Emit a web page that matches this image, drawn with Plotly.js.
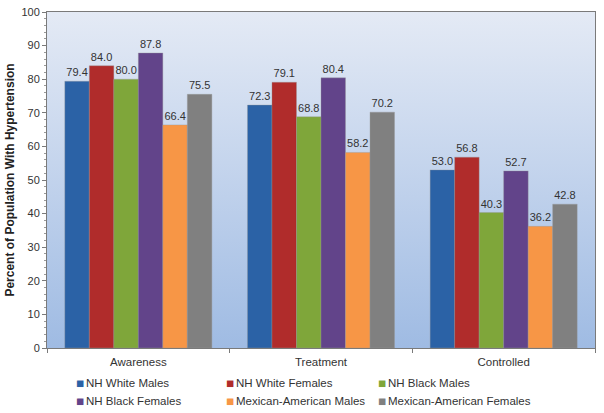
<!DOCTYPE html>
<html>
<head>
<meta charset="utf-8">
<script src="https://cdn.plot.ly/plotly-3.0.1.min.js"></script>
<style>html,body{margin:0;padding:0;background:#fff;}#chart{width:604px;height:413px;}</style>
</head>
<body>
<div id="chart"></div>
<script>
var categories = ["Awareness", "Treatment", "Controlled"];
var seriesNames = ["NH White Males", "NH White Females", "NH Black Males", "NH Black Females", "Mexican-American Males", "Mexican-American Females"];
var nhWhiteMales = [79.4, 72.3, 53.0];
var nhWhiteFemales = [84.0, 79.1, 56.8];
var nhBlackMales = [80.0, 68.8, 40.3];
var nhBlackFemales = [87.8, 80.4, 52.7];
var mexAmMales = [66.4, 58.2, 36.2];
var mexAmFemales = [75.5, 70.2, 42.8];
var seriesValues = [nhWhiteMales, nhWhiteFemales, nhBlackMales, nhBlackFemales, mexAmMales, mexAmFemales];
var colors = ["#2b62a6", "#b02c2b", "#7fa63a", "#62448a", "#f79646", "#808080"];

var traces = seriesValues.map(function (vals, i) {
  return {
    type: "bar",
    name: seriesNames[i],
    x: categories,
    y: vals,
    marker: { color: colors[i], line: { color: "rgba(150,150,150,0.6)", width: 0.6 } },
    texttemplate: "%{y:.1f}",
    textposition: "outside",
    cliponaxis: false,
    textfont: { size: 11, color: "#333" },
    hoverinfo: "skip"
  };
});

// Custom legend laid out in two rows of three (pixel positions of the layout only)
var M = { l: 47, r: 9, t: 12, b: 65 };
var plotW = 604 - M.l - M.r, plotH = 413 - M.t - M.b;
function px2x(px) { return (px - M.l) / plotW; }
function py2y(py) { return (413 - M.b - py) / plotH; }
var legCols = [80, 230, 382];
var legRows = [383, 401];
var annotations = [];
seriesNames.forEach(function (name, i) {
  var cx = legCols[i % 3], cy = legRows[Math.floor(i / 3)];
  annotations.push({
    xref: "paper", yref: "paper", x: px2x(cx), y: py2y(cy),
    xanchor: "center", yanchor: "middle", showarrow: false,
    text: "■", font: { family: "DejaVu Sans", size: 8.5, color: colors[i] }
  });
  annotations.push({
    xref: "paper", yref: "paper", x: px2x(cx + 4), y: py2y(cy),
    xanchor: "left", yanchor: "middle", showarrow: false,
    text: name, font: { size: 11.5, color: "#333" }
  });
});

var bgSvg = '<svg xmlns="http://www.w3.org/2000/svg" width="100" height="100" preserveAspectRatio="none">' +
  '<defs><linearGradient id="g" x1="0" y1="0" x2="0" y2="1">' +
  '<stop offset="0" stop-color="#e4eaf5"/><stop offset="1" stop-color="#9fbbe3"/>' +
  '</linearGradient></defs><rect width="100" height="100" fill="url(#g)"/></svg>';

var layout = {
  width: 604,
  height: 413,
  margin: { l: M.l, r: M.r, t: M.t, b: M.b, autoexpand: false },
  font: { family: "Liberation Sans, Arial, sans-serif", size: 11, color: "#333" },
  paper_bgcolor: "#ffffff",
  plot_bgcolor: "rgba(0,0,0,0)",
  barmode: "group",
  bargap: 0.195,
  bargroupgap: 0,
  showlegend: false,
  annotations: annotations,
  xaxis: {
    type: "category",
    showline: true,
    linecolor: "#7a7a7a",
    linewidth: 1,
    mirror: true,
    ticks: "outside",
    tickson: "boundaries",
    ticklen: 4,
    tickcolor: "#7a7a7a",
    ticklabelstandoff: 3,
    tickfont: { size: 11.5, color: "#333" },
    showgrid: false,
    zeroline: false
  },
  yaxis: {
    range: [0, 100],
    dtick: 10,
    showline: true,
    linecolor: "#7a7a7a",
    linewidth: 1,
    mirror: true,
    ticks: "outside",
    ticklen: 4,
    tickcolor: "#7a7a7a",
    minor: { dtick: 2, ticks: "outside", ticklen: 2, tickcolor: "#9a9a9a" },
    tickfont: { size: 11, color: "#333" },
    showgrid: false,
    zeroline: false,
    title: { text: "<b>Percent of Population With Hypertension</b>", font: { size: 12, color: "#222" }, standoff: 4 }
  },
  images: [{
    source: "data:image/svg+xml;charset=utf-8," + encodeURIComponent(bgSvg),
    xref: "paper", yref: "paper",
    x: 0, y: 1, sizex: 1, sizey: 1,
    xanchor: "left", yanchor: "top",
    sizing: "stretch",
    layer: "below"
  }]
};

Plotly.newPlot("chart", traces, layout, { displayModeBar: false, staticPlot: true });
</script>
</body>
</html>
